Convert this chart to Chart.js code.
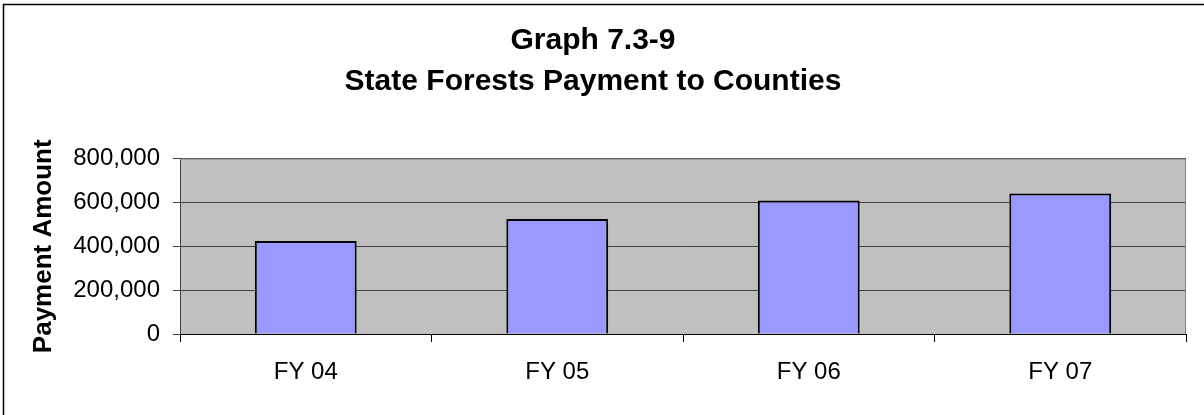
<!DOCTYPE html>
<html>
<head>
<meta charset="utf-8">
<script src="https://cdn.jsdelivr.net/npm/chart.js@4.4.0/dist/chart.umd.min.js"></script>
<style>
  body { margin: 0; background: #fff; }
  canvas { display: block; }
</style>
</head>
<body>
<canvas id="barChart" width="1204" height="415"></canvas>
<script>
// Data
const categories = ["FY 04", "FY 05", "FY 06", "FY 07"];
const payments = [424000, 524000, 608000, 640000];
const titleLines = ["Graph 7.3-9", "State Forests Payment to Counties"];
const yTitle = "Payment Amount";

const FONT = "'Liberation Sans', Arial, sans-serif";

// plot background + outer frame
const framePlugin = {
    id: "frame",
    beforeDraw(chart) {
        const { ctx, chartArea: a } = chart;
        ctx.save();
        ctx.fillStyle = "#fff";
        ctx.fillRect(0, 0, chart.width, chart.height);
        ctx.fillStyle = "#C0C0C0";
        ctx.fillRect(a.left, a.top, a.right - a.left, a.bottom - a.top);
        ctx.restore();
    },
    afterDraw(chart) {
        const { ctx, chartArea: a } = chart;
        ctx.save();
        ctx.strokeStyle = "#808080";
        ctx.lineWidth = 1;
        ctx.beginPath();
        ctx.moveTo(a.left, a.top + 0.5);
        ctx.lineTo(a.right - 0.5, a.top + 0.5);
        ctx.lineTo(a.right - 0.5, a.bottom);
        ctx.stroke();
        ctx.strokeStyle = "#000";
        ctx.lineWidth = 1.5;
        ctx.strokeRect(3.5, 4.5, chart.width + 10, chart.height + 10);
        ctx.restore();
    }
};

new Chart(document.getElementById("barChart").getContext("2d"), {
    type: "bar",
    data: {
        labels: categories,
        datasets: [{
            data: payments,
            backgroundColor: "#9999FF",
            borderColor: "#000",
            borderWidth: 2,
            barPercentage: 0.405,
            categoryPercentage: 1.0,
        }],
    },
    options: {
        responsive: false,
        animation: false,
        layout: { padding: { left: 0, right: 18, top: 0, bottom: 0 } },
        plugins: {
            legend: { display: false },
            tooltip: { enabled: false },
            title: {
                display: true,
                text: titleLines,
                color: "#000",
                font: { family: FONT, size: 30, weight: "bold", lineHeight: 41 / 30 },
                padding: { top: 20.5, bottom: 56 },
            },
        },
        scales: {
            x: {
                afterFit(scale) { scale.height = 81; },
                grid: {
                    offset: true,
                    drawOnChartArea: false,
                    drawTicks: true,
                    tickLength: 8,
                    tickColor: "#000",
                },
                border: { color: "#000", width: 1 },
                ticks: {
                    color: "#000",
                    padding: 16,
                    font: { family: FONT, size: 24 },
                },
            },
            y: {
                min: 0,
                max: 800000,
                afterFit(scale) { scale.width = 180; },
                grid: {
                    color: "#404040",
                    tickColor: "#404040",
                    tickLength: 7,
                },
                border: { color: "#404040", width: 1 },
                ticks: {
                    stepSize: 200000,
                    color: "#000",
                    padding: 13,
                    font: { family: FONT, size: 24 },
                    callback: (v) => v.toLocaleString("en-US"),
                },
                title: {
                    display: true,
                    text: yTitle,
                    color: "#000",
                    font: { family: FONT, size: 26, weight: "bold" },
                    padding: { top: 28.4, bottom: 0 },
                },
            },
        },
    },
    plugins: [framePlugin],
});
</script>
</body>
</html>
